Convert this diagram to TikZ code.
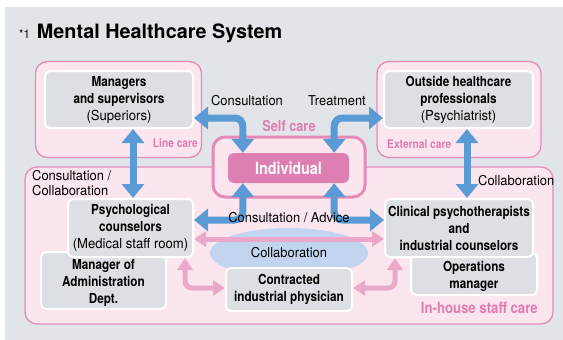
\documentclass[tikz,border=0pt]{standalone}
\usepackage{fontspec}
\setmainfont{TeX Gyre Heros}[FakeStretch=0.95,BoldFeatures={FakeStretch=0.85}]
\newfontfamily\titlefont{TeX Gyre Heros}
\usetikzlibrary{arrows.meta}
\definecolor{bgcol}{HTML}{E1E5E9}
\definecolor{pinkfill}{HTML}{FBE6F0}
\definecolor{pinkline}{HTML}{E48BB8}
\definecolor{pinktext}{HTML}{E27CB0}
\definecolor{indcol}{HTML}{DE7FB1}
\definecolor{boxgray}{HTML}{DCE0E5}
\definecolor{arrblue}{HTML}{5B9BD5}
\definecolor{arrpink}{HTML}{EBA9CA}
\definecolor{ellblue}{HTML}{C3D5EE}

\begin{document}
\begin{tikzpicture}[x=1pt,y=-1pt,
  graybox/.style={draw=white,line width=2pt,fill=boxgray,rounded corners=5pt,
    align=center,inner sep=0pt,font=\fontsize{13.8}{17}\selectfont},
  carebox/.style={draw=pinkline,line width=1.3pt,fill=pinkfill,rounded corners=12pt},
  caretext/.style={text=pinktext,font=\fontsize{12}{14}\selectfont\bfseries,inner sep=0pt},
  bluearr/.style={arrblue,line width=7pt,rounded corners=8pt,
    {Triangle[length=14pt,width=22pt]}-{Triangle[length=14pt,width=22pt]}},
  pinkarr/.style={arrpink,line width=5pt,rounded corners=7pt,
    {Triangle[length=12pt,width=15pt]}-{Triangle[length=12pt,width=15pt]}},
  lbl/.style={font=\fontsize{13.6}{15}\selectfont,inner sep=0pt}]
  \useasboundingbox (0,0) rectangle (563,340);
  \fill[bgcol] (5,7) rectangle (563,340);

  % title
  \node[anchor=base west,inner sep=0pt] (title) at (19,38)
    {{\fontsize{12}{15}\selectfont *1}\hspace{7pt}{\titlefont\fontsize{19.8}{21}\selectfont\bfseries Mental Healthcare System}};

  % care areas
  \node[carebox,minimum width=166pt,minimum height=96pt] (linecare) at (118.5,109.5) {};
  \node[carebox,minimum width=164pt,minimum height=96pt] (extcare) at (459,109.5) {};
  \node[carebox,minimum width=528pt,minimum height=157pt] (inhouse) at (289,245.5) {};
  \fill[ellblue] (289,253) ellipse (79pt and 25pt);
  \node[draw=pinkline,line width=3pt,fill=pinkfill,rounded corners=12pt,
    minimum width=152pt,minimum height=60pt] (selfcare) at (289,167) {};
  \node[fill=indcol,rounded corners=6pt,minimum width=121pt,minimum height=30pt,
    text=white,font=\fontsize{16.8}{18}\selectfont\bfseries] (ind) at (288.5,168) {Individual};

  \node[caretext,anchor=east] (lclbl) at (198,143) {Line care};
  \node[caretext,anchor=west] (eclbl) at (387,144) {External care};
  \node[caretext,font=\fontsize{15}{17}\selectfont\bfseries] (sclbl) at (289,126) {Self care};
  \node[caretext,anchor=east,font=\fontsize{15.5}{17}\selectfont\bfseries] (ihlbl) at (538,308) {In-house staff care};

  % people
  \node[graybox,minimum width=148pt,minimum height=57pt] (mgr) at (119,99.5)
    {\textbf{Managers}\\\textbf{and supervisors}\\(Superiors)};
  \node[graybox,minimum width=149pt,minimum height=57pt] (out) at (458.5,99.5)
    {\textbf{Outside healthcare}\\\textbf{professionals}\\(Psychiatrist)};
  \node[graybox,minimum width=125pt,minimum height=57pt] (adm) at (103.5,280.5)
    {\rule{0pt}{15pt}\textbf{Manager of}\\\textbf{Administration}\\\textbf{Dept.}};
  \node[graybox,minimum width=125pt,minimum height=58pt] (psy) at (130.5,228)
    {\textbf{Psychological}\\\textbf{counselors}\\(Medical staff room)};
  \node[graybox,minimum width=126pt,minimum height=42pt] (ops) at (474,274)
    {\rule{0pt}{16pt}\textbf{Operations}\\\textbf{manager}};
  \node[graybox,minimum width=148pt,minimum height=58pt] (cli) at (459,228)
    {\textbf{Clinical psychotherapists}\\\textbf{and}\\\textbf{industrial counselors}};
  \node[graybox,minimum width=126pt,minimum height=43pt] (phy) at (289,289.5)
    {\textbf{Contracted}\\\textbf{industrial physician}};

  % connectors
  \draw[bluearr] (mgr.east |- 0,118) -| ([xshift=15pt]ind.north west);
  \draw[bluearr] (out.west |- 0,118) -| ([xshift=-15pt]ind.north east);
  \draw[bluearr] (mgr.south -| 133,0) -- (psy.north -| 133,0);
  \draw[bluearr] (out.south -| 467,0) -- (cli.north -| 467,0);
  \draw[bluearr] ([xshift=15pt]ind.south west) |- (psy.east |- 0,220);
  \draw[bluearr] ([xshift=-15pt]ind.south east) |- (cli.west |- 0,220);
  \draw[pinkarr] (psy.east |- 0,239) -- (cli.west |- 0,239);
  \draw[pinkarr] (psy.south -| 185,0) |- (phy.west |- 0,288);
  \draw[pinkarr] (cli.south -| 395,0) |- (phy.east |- 0,288);

  % labels
  \node[lbl] (lcons) at (247,101) {Consultation};
  \node[lbl] (ltreat) at (337,101) {Treatment};
  \node[lbl,anchor=north west,align=left] (lcc) at (32,170) {Consultation /\\Collaboration};
  \node[lbl,anchor=west] (lcol) at (478,181) {Collaboration};
  \node[lbl] (ladv) at (289,218) {Consultation / Advice};
  \node[lbl] (lcolb) at (289,253) {Collaboration};
\end{tikzpicture}
\end{document}
